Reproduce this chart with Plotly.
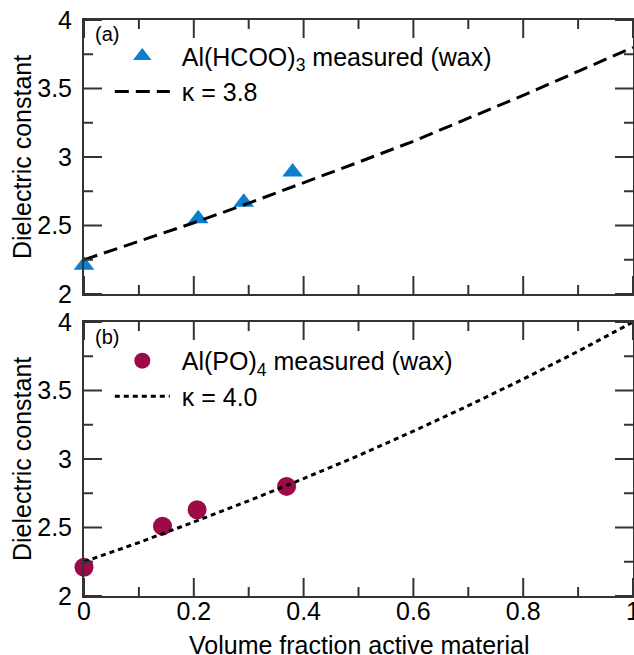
import plotly.graph_objects as go

# ---- data ----
hcoo_x = [0.0, 0.208, 0.291, 0.380]
hcoo_y = [2.21, 2.55, 2.67, 2.89]

po4_x = [0.0, 0.143, 0.206, 0.369]
po4_y = [2.21, 2.51, 2.63, 2.80]

model_x = [0.0, 0.1, 0.2, 0.3, 0.4, 0.5, 0.6, 0.7, 0.8, 0.9, 1.0]
k38_y = [2.25, 2.383, 2.52, 2.663, 2.81, 2.962, 3.115, 3.28, 3.45, 3.625, 3.80]
k40_y = [2.25, 2.39, 2.54, 2.695, 2.857, 3.025, 3.203, 3.389, 3.583, 3.786, 4.00]

x_major = [0, 0.2, 0.4, 0.6, 0.8, 1.0]
x_minor = [0.1, 0.3, 0.5, 0.7, 0.9]
y_major = [2, 2.5, 3, 3.5, 4]
y_minor = [2.25, 2.75, 3.25, 3.75]

x_range = [0, 1]
y_range = [2, 4]

FONT = "Liberation Sans, Arial, Helvetica, sans-serif"
BLUE = "#0B7FCB"
MAROON = "#9E0A48"
AX = "#333333"
SP = "\u00a0"

W, H = 634, 655
ML, MR, MT, MB = 84, 1, 20, 59
PLOT_W = W - ML - MR            # 549 px
PANEL_H = 274                   # px per panel
GAP = 28
top_dom = [(PANEL_H + GAP) / (PANEL_H * 2 + GAP), 1.0]
bot_dom = [0.0, PANEL_H / (PANEL_H * 2 + GAP)]

fig = go.Figure()

fig.add_trace(go.Scatter(x=hcoo_x, y=hcoo_y, mode="markers",
                         name=SP + "Al(HCOO)<sub>3</sub> measured (wax)",
                         marker=dict(symbol="triangle-up", size=18, color=BLUE),
                         legend="legend", cliponaxis=False, xaxis="x", yaxis="y"))
fig.add_trace(go.Scatter(x=model_x, y=k38_y, mode="lines", name=SP + "κ = 3.8",
                         line=dict(color="black", width=3, dash="14px,7px"),
                         legend="legend", xaxis="x", yaxis="y"))
fig.add_trace(go.Scatter(x=po4_x, y=po4_y, mode="markers",
                         name=SP + "Al(PO)<sub>4</sub> measured (wax)",
                         marker=dict(symbol="circle", size=19, color=MAROON),
                         legend="legend2", cliponaxis=False, xaxis="x2", yaxis="y2"))
fig.add_trace(go.Scatter(x=model_x, y=k40_y, mode="lines", name=SP + "κ = 4.0",
                         line=dict(color="black", width=3, dash="5px,4px"),
                         legend="legend2", xaxis="x2", yaxis="y2"))

# inside tick marks on all four sides, built from the tick value lists
# (tick length given in pixels and converted through each axis' scale)
px_per_x = PLOT_W / (x_range[1] - x_range[0])
px_per_y = PANEL_H / (y_range[1] - y_range[0])


def tick_path(xvals, yvals, len_px):
    dy = len_px / px_per_y
    dx = len_px / px_per_x
    xs, ys = [], []
    for v in xvals:
        xs += [v, v, None, v, v, None]
        ys += [y_range[0], y_range[0] + dy, None, y_range[1], y_range[1] - dy, None]
    for v in yvals:
        xs += [x_range[0], x_range[0] + dx, None, x_range[1], x_range[1] - dx, None]
        ys += [v, v, None, v, v, None]
    return xs, ys


for xr, yr in (("x", "y"), ("x2", "y2")):
    for xv, yv, ln in ((x_major, y_major, 18), (x_minor, y_minor, 9)):
        tx, ty = tick_path(xv, yv, ln)
        fig.add_trace(go.Scatter(x=tx, y=ty, mode="lines", showlegend=False,
                                 hoverinfo="skip", connectgaps=False,
                                 line=dict(color=AX, width=2),
                                 xaxis=xr, yaxis=yr))

tickfont = dict(family=FONT, size=25, color="black")


def ax_style(is_x):
    return dict(
        range=x_range if is_x else y_range,
        tickmode="array", tickvals=x_major if is_x else y_major,
        showline=True, linecolor=AX, linewidth=2, mirror=True,
        ticks="", showgrid=False, zeroline=False, tickfont=tickfont,
        ticklabeloverflow="allow", automargin=False,
        ticklabelstandoff=-8 if is_x else 5,
    )


title_font = dict(family=FONT, size=25, color="black")

fig.update_layout(
    template="none",
    xaxis=dict(domain=[0, 1], anchor="y", showticklabels=False, **ax_style(True)),
    yaxis=dict(domain=top_dom, anchor="x", **ax_style(False)),
    xaxis2=dict(domain=[0, 1], anchor="y2", **ax_style(True)),
    yaxis2=dict(domain=bot_dom, anchor="x2", **ax_style(False)),
    width=W, height=H,
    margin=dict(l=ML, r=MR, t=MT, b=MB),
    plot_bgcolor="white", paper_bgcolor="white",
    font=dict(family=FONT, size=25, color="black"),
    showlegend=True,
    legend=dict(x=0.047, y=0.977, xanchor="left", yanchor="top",
                bgcolor="rgba(0,0,0,0)", font=dict(family=FONT, size=25),
                itemwidth=55, tracegroupgap=0),
    legend2=dict(x=0.047, y=0.448, xanchor="left", yanchor="top",
                 bgcolor="rgba(0,0,0,0)", font=dict(family=FONT, size=25),
                 itemwidth=55, tracegroupgap=0),
    annotations=[
        dict(text="(a)", x=0.0164, y=0.975, xref="paper", yref="paper",
             xanchor="left", yanchor="middle", showarrow=False,
             font=dict(family=FONT, size=20, color="black")),
        dict(text="(b)", x=0.0164, y=0.4497, xref="paper", yref="paper",
             xanchor="left", yanchor="middle", showarrow=False,
             font=dict(family=FONT, size=20, color="black")),
        dict(text="Volume fraction active material", x=0.5, y=-0.085,
             xref="paper", yref="paper", xanchor="center", yanchor="middle",
             showarrow=False, font=title_font),
        dict(text="Dielectric constant", x=-0.113, y=0.762, textangle=-90,
             xref="paper", yref="paper", xanchor="center", yanchor="middle",
             showarrow=False, font=title_font),
        dict(text="Dielectric constant", x=-0.113, y=0.2378, textangle=-90,
             xref="paper", yref="paper", xanchor="center", yanchor="middle",
             showarrow=False, font=title_font),
    ],
)

fig.write_html("out.html")
